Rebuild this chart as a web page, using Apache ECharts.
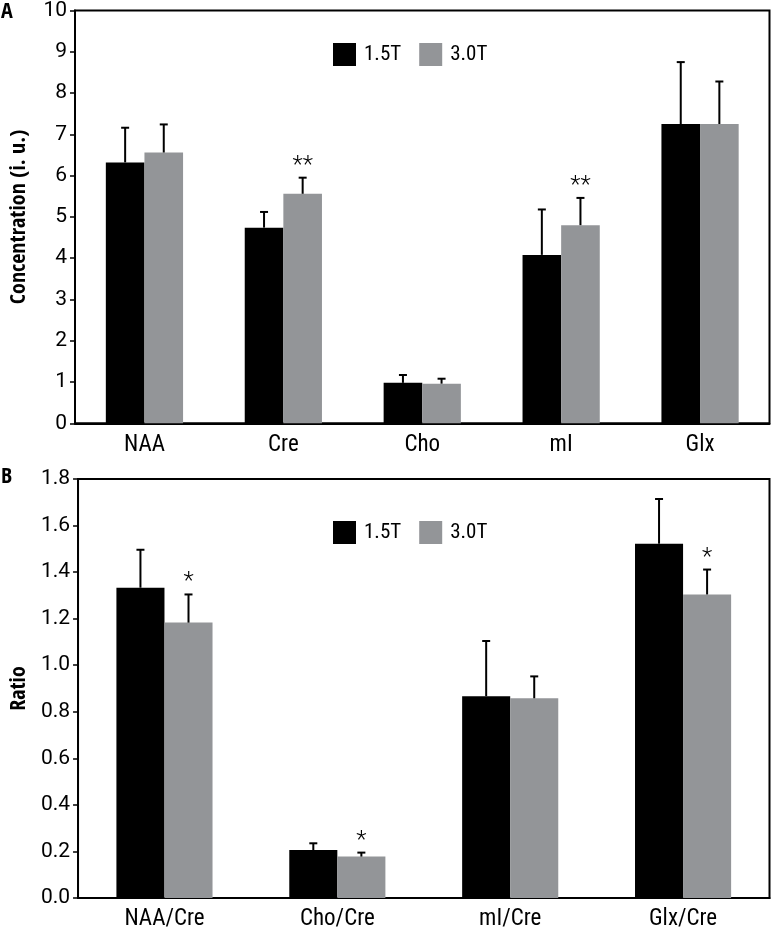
<!DOCTYPE html>
<html>
<head>
<meta charset="utf-8">
<script src="https://cdn.jsdelivr.net/npm/echarts@6/dist/echarts.min.js"></script>
<style>
html,body{margin:0;padding:0;background:#fff;}
#chart{width:771px;height:931px;}
</style>
</head>
<body>
<div id="chart"></div>
<script>
// ---- Data ----
const seriesNames = ['1.5T', '3.0T'];

// Panel A
const catsA = ['NAA', 'Cre', 'Cho', 'mI', 'Glx'];
const meanA15 = [6.32, 4.74, 0.98, 4.08, 7.25];
const sdA15 = [0.84, 0.38, 0.19, 1.10, 1.50];
const meanA30 = [6.56, 5.56, 0.96, 4.80, 7.25];
const sdA30 = [0.68, 0.39, 0.12, 0.66, 1.03];
const starsA30 = ['', '**', '', '**', ''];
const yTicksA = { min: 0, max: 10, interval: 1 };

// Panel B
const catsB = ['NAA/Cre', 'Cho/Cre', 'mI/Cre', 'Glx/Cre'];
const meanB15 = [1.333, 0.206, 0.867, 1.522];
const sdB15 = [0.163, 0.029, 0.237, 0.192];
const meanB30 = [1.183, 0.178, 0.858, 1.304];
const sdB30 = [0.121, 0.017, 0.094, 0.107];
const starsB30 = ['*', '*', '', '*'];
const yTicksB = { min: 0, max: 1.8, interval: 0.2 };

// ---- Styles ----
const BLACK = '#000000';
const GREY = '#939598';
const COND = '"Roboto Condensed", Roboto, sans-serif';
const CONDB = '"Open Sans Condensed", "Roboto Condensed", sans-serif';
const REG = 'Roboto, "Liberation Sans", sans-serif';
const BAR_FRAC = 0.278;

function errData(means, sds) {
  return means.map((m, i) => [i, m, sds[i]]);
}

function errRender(sign, stars) {
  return function (params, api) {
    const i = api.value(0);
    const mean = api.value(1);
    const sd = api.value(2);
    const bw = api.size([1, 0])[0] * BAR_FRAC;
    const base = api.coord([i, mean]);
    const top = api.coord([i, mean + sd]);
    const x = base[0] + sign * bw / 2;
    const children = [
      { type: 'line', shape: { x1: x, y1: base[1], x2: x, y2: top[1] }, style: { stroke: '#000', lineWidth: 2 } },
      { type: 'line', shape: { x1: x - 4, y1: top[1], x2: x + 4, y2: top[1] }, style: { stroke: '#000', lineWidth: 2 } }
    ];
    const s = stars ? stars[i] : '';
    if (s) {
      children.push({
        type: 'text',
        style: {
          text: s, x: x, y: top[1],
          align: 'center', verticalAlign: 'bottom',
          fontSize: 24, fontFamily: REG, fontWeight: 300, fill: '#000'
        }
      });
    }
    return { type: 'group', children: children };
  };
}

function xAxis(gridIndex, cats) {
  return {
    type: 'category', gridIndex: gridIndex, data: cats,
    axisLine: { lineStyle: { color: '#000', width: 2 } },
    axisTick: { inside: true, length: 8, lineStyle: { color: '#000', width: 2 } },
    axisLabel: { color: '#000', fontSize: 23, fontFamily: COND, margin: 10 },
    splitLine: { show: false }
  };
}

function yAxis(gridIndex, t, name, fmt) {
  return {
    type: 'value', gridIndex: gridIndex, min: t.min, max: t.max, interval: t.interval,
    name: name, nameLocation: 'middle', nameGap: 45,
    nameTextStyle: { color: '#000', fontSize: 22, fontWeight: 'bold', fontFamily: CONDB },
    axisLine: { show: true, lineStyle: { color: '#000', width: 2 } },
    axisTick: { show: true, length: 5, lineStyle: { color: '#000', width: 1.5 } },
    axisLabel: { color: '#000', fontSize: 21, fontFamily: REG, margin: 8, formatter: fmt },
    splitLine: { show: false }
  };
}

function legend(top) {
  return {
    data: seriesNames, left: 328, top: top, orient: 'horizontal',
    itemWidth: 23, itemHeight: 23, itemGap: 18, icon: 'rect',
    textStyle: { color: '#000', fontSize: 21, fontFamily: COND, padding: [0, 0, 0, 3] },
    selectedMode: false
  };
}

const option = {
  animation: false,
  backgroundColor: '#fff',
  grid: [
    { left: 68, right: 1.5, top: 5.3, height: 418, show: true, borderColor: '#000', borderWidth: 2, containLabel: false },
    { left: 68, right: 1.5, top: 479, height: 421, show: true, borderColor: '#000', borderWidth: 2, containLabel: false }
  ],
  legend: [legend(38), legend(516)],
  xAxis: [xAxis(0, catsA), xAxis(1, catsB)],
  yAxis: [
    yAxis(0, yTicksA, 'Concentration (i. u.)', v => String(v)),
    yAxis(1, yTicksB, 'Ratio', v => v.toFixed(1))
  ],
  graphic: [
    { type: 'text', left: 1, top: 1, style: { text: 'A', fontSize: 22, fontWeight: 'bold', fontFamily: CONDB, fill: '#000' } },
    { type: 'text', left: 1, top: 466, style: { text: 'B', fontSize: 22, fontWeight: 'bold', fontFamily: CONDB, fill: '#000' } }
  ],
  series: [
    { name: '1.5T', type: 'bar', xAxisIndex: 0, yAxisIndex: 0, data: meanA15, barWidth: (BAR_FRAC * 100) + '%', barGap: '0%', itemStyle: { color: BLACK } },
    { name: '3.0T', type: 'bar', xAxisIndex: 0, yAxisIndex: 0, data: meanA30, barWidth: (BAR_FRAC * 100) + '%', barGap: '0%', itemStyle: { color: GREY } },
    { name: '1.5T', type: 'bar', xAxisIndex: 1, yAxisIndex: 1, data: meanB15, barWidth: (BAR_FRAC * 100) + '%', barGap: '0%', itemStyle: { color: BLACK } },
    { name: '3.0T', type: 'bar', xAxisIndex: 1, yAxisIndex: 1, data: meanB30, barWidth: (BAR_FRAC * 100) + '%', barGap: '0%', itemStyle: { color: GREY } },
    { name: 'errA15', type: 'custom', xAxisIndex: 0, yAxisIndex: 0, data: errData(meanA15, sdA15), encode: { x: 0, y: 1 }, renderItem: errRender(-1, null), clip: false, z: 5 },
    { name: 'errA30', type: 'custom', xAxisIndex: 0, yAxisIndex: 0, data: errData(meanA30, sdA30), encode: { x: 0, y: 1 }, renderItem: errRender(1, starsA30), clip: false, z: 5 },
    { name: 'errB15', type: 'custom', xAxisIndex: 1, yAxisIndex: 1, data: errData(meanB15, sdB15), encode: { x: 0, y: 1 }, renderItem: errRender(-1, null), clip: false, z: 5 },
    { name: 'errB30', type: 'custom', xAxisIndex: 1, yAxisIndex: 1, data: errData(meanB30, sdB30), encode: { x: 0, y: 1 }, renderItem: errRender(1, starsB30), clip: false, z: 5 }
  ]
};

const chart = echarts.init(document.getElementById('chart'), null, { renderer: 'canvas' });
chart.setOption(option);
</script>
</body>
</html>
